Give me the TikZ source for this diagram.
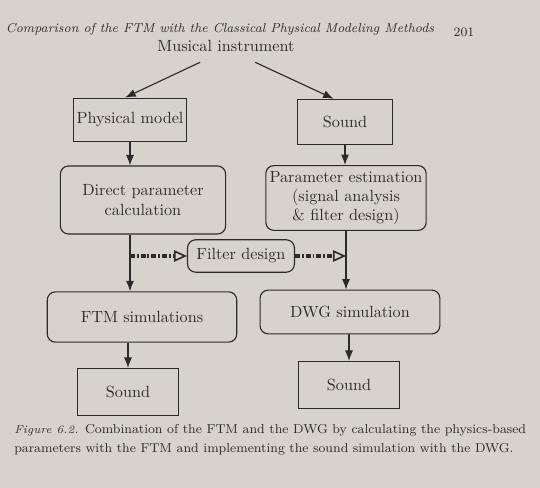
\documentclass[tikz,border=0pt]{standalone}
\usepackage{tikz}
\usetikzlibrary{arrows.meta,positioning,calc}
\definecolor{paper}{RGB}{216,210,204}
\definecolor{ink}{RGB}{45,43,42}

\begin{document}
\begin{tikzpicture}[
    x=0.0217cm, y=-0.0217cm,
    every node/.style={text=ink},
    plainbox/.style={rectangle, draw=ink, line width=0.7pt, inner sep=2pt, align=center},
    roundbox/.style={rectangle, rounded corners=5pt, draw=ink, line width=0.7pt, inner sep=2pt, align=center},
    arrow/.style={-{Latex[length=6.5pt,width=5pt]}, line width=0.7pt, draw=ink},
    dasharrow/.style={-{Triangle[open,length=8pt,width=7pt,line width=1pt]}, line width=2pt, draw=ink, dash pattern=on 3pt off 1.2pt on 1.2pt off 1.2pt}
]
\fill[paper] (0,0) rectangle (540,488);
\useasboundingbox (0,0) rectangle (540,488);

% page header
\node (hd) at (220,29) {\footnotesize\itshape Comparison of the FTM with the Classical Physical Modeling Methods};
\node (pg) at (464,32) {\footnotesize 201};

% diagram
\node (mi) at (226,46) {Musical instrument};
\node[plainbox, minimum width=70pt, minimum height=27pt] (pm) at (130,120) {Physical model};
\node[plainbox, minimum width=59pt, minimum height=28pt] (st) at (345,122) {Sound};
\node[roundbox, minimum width=102pt, minimum height=42pt] (dp) at (143,200) {Direct parameter\\calculation};
\node[roundbox, minimum width=99pt, minimum height=40pt, inner sep=1pt] (pe) at (346,198) {Parameter estimation\\(signal analysis\\\& filter design)};
\node[roundbox, minimum width=66pt, minimum height=20pt, inner sep=1pt] (fd) at (241,256) {Filter design};
\node[roundbox, minimum width=117pt, minimum height=31pt] (ftm) at (142,317) {FTM simulations};
\node[roundbox, minimum width=111pt, minimum height=27pt] (dwg) at (350,312) {DWG simulation};
\node[plainbox, minimum width=62pt, minimum height=29pt] (sl) at (128,392) {Sound};
\node[plainbox, minimum width=62pt, minimum height=29pt] (sr) at (349,385) {Sound};

\draw[arrow] ([xshift=-16pt,yshift=-3pt]mi.south) -- ([xshift=-3pt]pm.north);
\draw[arrow] ([xshift=18pt,yshift=-3pt]mi.south) -- ([xshift=-7pt]st.north);
\draw[arrow] (pm.south) -- (pm.south |- dp.north);
\draw[arrow] (st.south) -- (st.south |- pe.north);
\draw[arrow] (pm.south |- dp.south) -- (pm.south |- ftm.north);
\draw[arrow] (pe.south) -- (pe.south |- dwg.north);
\draw[dasharrow] (pm.south |- fd.west) -- (fd.west);
\draw[dasharrow] (fd.east) -- (pe.south |- fd.east);
\draw[arrow] (sl.north |- ftm.south) -- (sl.north);
\draw[arrow] (sr.north |- dwg.south) -- (sr.north);

% caption
\node[anchor=north west, align=left, inner sep=0pt] (cap) at (14,424)
  {\footnotesize{\scriptsize\itshape Figure 6.2.}\enspace Combination of the FTM and the DWG by calculating the physics-based\\
   \footnotesize parameters with the FTM and implementing the sound simulation with the DWG.};
\end{tikzpicture}
\end{document}
